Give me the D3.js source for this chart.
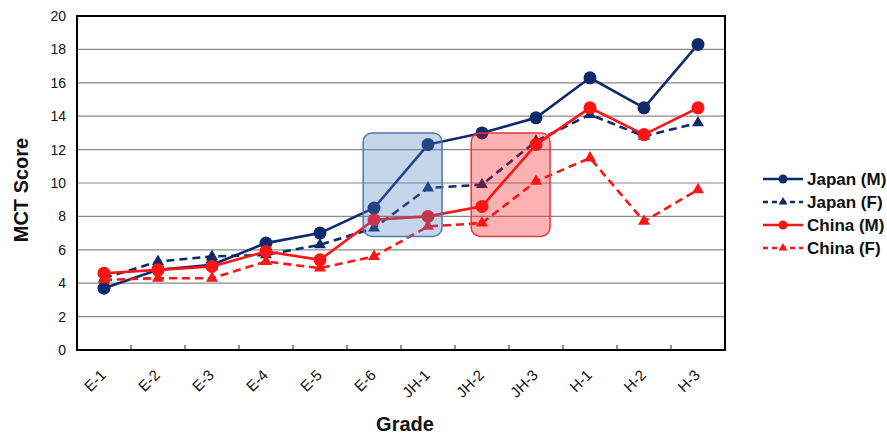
<!DOCTYPE html>
<html>
<head>
<meta charset="utf-8">
<script src="https://cdn.jsdelivr.net/npm/d3@7"></script>
<style>
  html, body { margin: 0; padding: 0; background: #fff; }
  svg { display: block; font-family: "Liberation Sans", Arial, sans-serif; }
</style>
</head>
<body>
<svg id="chart" width="887" height="434"></svg>
<script>
// ---- data ----
const categories = ["E-1","E-2","E-3","E-4","E-5","E-6","JH-1","JH-2","JH-3","H-1","H-2","H-3"];
const japanM = [3.7, 4.8, 5.1, 6.4, 7.0, 8.5, 12.3, 13.0, 13.9, 16.3, 14.5, 18.3];
const japanF = [4.3, 5.3, 5.6, 5.7, 6.3, 7.3, 9.7, 9.9, 12.5, 14.1, 12.8, 13.6];
const chinaM = [4.6, 4.8, 5.0, 5.9, 5.4, 7.8, 8.0, 8.6, 12.3, 14.5, 12.9, 14.5];
const chinaF = [4.2, 4.3, 4.3, 5.3, 4.9, 5.6, 7.4, 7.6, 10.1, 11.5, 7.7, 9.6];
const seriesNames = ["Japan (M)", "Japan (F)", "China (M)", "China (F)"];
const yTicks = [0, 2, 4, 6, 8, 10, 12, 14, 16, 18, 20];
const xTitle = "Grade";
const yTitle = "MCT Score";
// highlight boxes (category span + value span)
const highlightFrom = ["E-6", "JH-2"];
const highlightTo = ["JH-1", "JH-3"];
const highlightTop = [13.0, 13.0];
const highlightBottom = [6.8, 6.8];

// ---- styles ----
const navy = "#0e2a6c";
const red = "#ff1414";
const styles = [
  { color: navy, dash: null, shape: "circle" },
  { color: navy, dash: "8,5", shape: "triangle" },
  { color: red, dash: null, shape: "circle" },
  { color: red, dash: "8,5", shape: "triangle" }
];
const boxStyles = [
  { fill: "rgba(79,129,189,0.32)", stroke: "#4a78b0" },
  { fill: "rgba(245,20,20,0.33)", stroke: "#e8363a" }
];

const seriesValues = [japanM, japanF, chinaM, chinaF];
const series = seriesNames.map((name, i) => ({
  name, style: styles[i],
  values: categories.map((c, j) => ({ cat: c, v: seriesValues[i][j] }))
}));

const svg = d3.select("#chart");
const plot = { left: 77, right: 725, top: 16, bottom: 350 };

const x = d3.scaleBand().domain(categories).range([plot.left, plot.right]).padding(0);
const y = d3.scaleLinear().domain([0, 20]).range([plot.bottom, plot.top]);
const cx = c => x(c) + x.bandwidth() / 2;

// gridlines
svg.append("g").selectAll("line").data(yTicks.filter(t => t > 0 && t < 20)).join("line")
  .attr("x1", plot.left).attr("x2", plot.right)
  .attr("y1", d => y(d)).attr("y2", d => y(d))
  .attr("stroke", "#8a8a8a").attr("stroke-width", 1.2);

// y axis labels
const yAxis = d3.axisLeft(y).tickValues(yTicks).tickSize(0).tickPadding(11);
const gy = svg.append("g").attr("transform", `translate(${plot.left},0)`).call(yAxis);
gy.select(".domain").remove();
gy.selectAll("text").attr("font-size", 14).attr("fill", "#111")
  .attr("font-family", "Liberation Sans, Arial, sans-serif");

// x axis: ticks between categories, inward
const gx = svg.append("g").attr("transform", `translate(0,${plot.bottom})`);
gx.selectAll("line.tk").data(categories.slice(1)).join("line")
  .attr("class", "tk")
  .attr("x1", d => x(d)).attr("x2", d => x(d))
  .attr("y1", 0).attr("y2", -5)
  .attr("stroke", "#222").attr("stroke-width", 1);
gx.selectAll("text").data(categories).join("text")
  .attr("transform", d => `translate(${cx(d) + 3},${26}) rotate(-45)`)
  .attr("text-anchor", "end")
  .attr("font-size", 15).attr("fill", "#111")
  .text(d => d);

// plot border
svg.append("rect")
  .attr("x", plot.left).attr("y", plot.top)
  .attr("width", plot.right - plot.left).attr("height", plot.bottom - plot.top)
  .attr("fill", "none").attr("stroke", "#000").attr("stroke-width", 2);

// lines and markers
const line = d3.line().x(d => cx(d.cat)).y(d => y(d.v));
const tri = d3.symbol().type(d3.symbolTriangle).size(62);
const triSmall = d3.symbol().type(d3.symbolTriangle).size(34);

series.forEach(s => {
  const g = svg.append("g");
  g.append("path").datum(s.values)
    .attr("d", line).attr("fill", "none")
    .attr("stroke", s.style.color).attr("stroke-width", 2.6)
    .attr("stroke-dasharray", s.style.dash);
  if (s.style.shape === "circle") {
    g.selectAll("circle").data(s.values).join("circle")
      .attr("cx", d => cx(d.cat)).attr("cy", d => y(d.v)).attr("r", 6.5)
      .attr("fill", s.style.color);
  } else {
    g.selectAll("path.m").data(s.values).join("path")
      .attr("class", "m")
      .attr("d", tri)
      .attr("transform", d => `translate(${cx(d.cat)},${y(d.v)})`)
      .attr("fill", s.style.color);
  }
});

// highlight boxes
highlightFrom.forEach((from, i) => {
  const x0 = cx(from) - x.bandwidth() * 0.2;
  const x1 = cx(highlightTo[i]) + x.bandwidth() * 0.26;
  svg.append("rect")
    .attr("x", x0).attr("y", y(highlightTop[i]))
    .attr("width", x1 - x0).attr("height", y(highlightBottom[i]) - y(highlightTop[i]))
    .attr("rx", 9).attr("ry", 9)
    .attr("fill", boxStyles[i].fill).attr("stroke", boxStyles[i].stroke).attr("stroke-width", 1.5);
});

// axis titles
svg.append("text")
  .attr("x", (plot.left + plot.right) / 2 + 4).attr("y", 431)
  .attr("text-anchor", "middle").attr("font-weight", "bold").attr("font-size", 20)
  .attr("fill", "#111").text(xTitle);
svg.append("text")
  .attr("transform", `translate(28,${(plot.top + plot.bottom) / 2 + 7}) rotate(-90)`)
  .attr("text-anchor", "middle").attr("font-weight", "bold").attr("font-size", 20)
  .attr("fill", "#111").text(yTitle);

// legend
const legend = svg.append("g").attr("transform", "translate(763,179)");
series.forEach((s, i) => {
  const g = legend.append("g").attr("transform", `translate(0,${i * 23})`);
  g.append("line").attr("x1", 0).attr("x2", 40).attr("y1", 0).attr("y2", 0)
    .attr("stroke", s.style.color).attr("stroke-width", 2.6)
    .attr("stroke-dasharray", s.style.dash ? "5,4" : null);
  if (s.style.shape === "circle") {
    g.append("circle").attr("cx", 20).attr("cy", 0).attr("r", 4.5).attr("fill", s.style.color);
  } else {
    g.append("path").attr("d", triSmall).attr("transform", "translate(20,0)").attr("fill", s.style.color);
  }
  g.append("text").attr("x", 44).attr("y", 6)
    .attr("font-size", 17).attr("font-weight", "bold").attr("fill", "#111")
    .text(s.name);
});
</script>
</body>
</html>
